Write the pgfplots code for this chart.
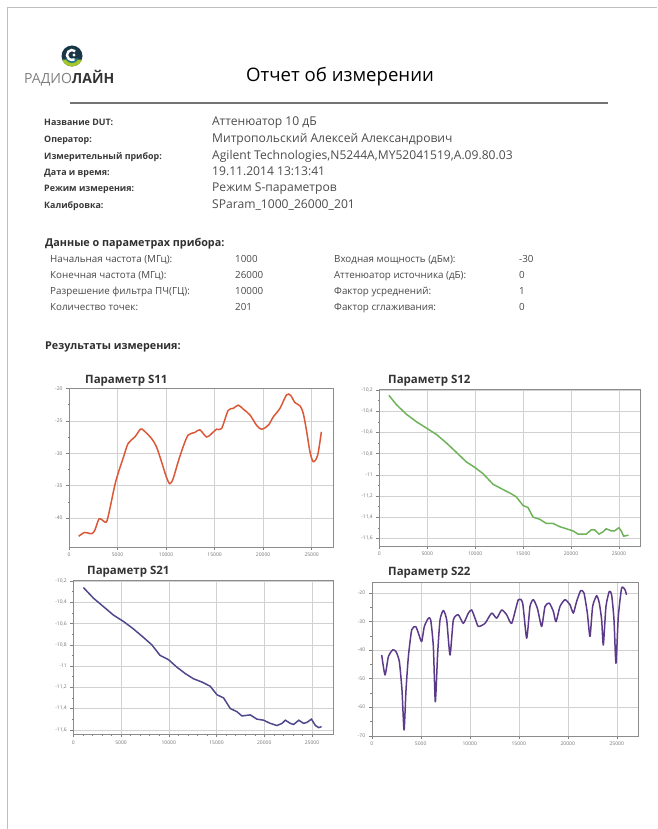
\documentclass[border=0pt]{standalone}
\usepackage{pgfplots}
\pgfplotsset{compat=1.18}
\usepackage{fontspec}
\setmainfont{Open Sans}
\definecolor{cS11}{RGB}{218,88,55}
\definecolor{cS12}{RGB}{110,178,90}
\definecolor{cS21}{RGB}{78,72,140}
\definecolor{cS22}{RGB}{92,58,138}
\definecolor{lgA}{RGB}{25,55,70}
\definecolor{lgB}{RGB}{165,200,40}
\definecolor{lgC}{RGB}{40,120,130}
\pgfplotsset{rep/.style={scale only axis, anchor=south west, xmin=0, xmax=27200,
  axis line style={black!45}, grid=major, major grid style={black!18},
  tick align=outside, xtick pos=bottom, ytick pos=left,
  xtick={0,5000,...,25000}, minor x tick num=4, minor y tick num=1,
  major tick length=3pt, minor tick length=1.5pt,
  tick style={black!50, line width=0.4pt},
  tick label style={font=\fontsize{5}{6}\selectfont, text=black!55},
  scaled ticks=false, /pgf/number format/assume math mode=true,
  /pgf/number format/use comma, /pgf/number format/1000 sep={},
  y tick label style={/pgf/number format/fixed}}}
\begin{document}
\begin{tikzpicture}[x=1pt,y=1pt]
\path[use as bounding box] (0,0) rectangle (657,-829);
\draw[black!25, line width=0.8pt] (7,-829) -- (7,-7) -- (657,-7);
% logo
\fill[lgA] (72,-56) circle (10.5pt);
\fill[lgB] (72,-56) ++(200:10.5pt) arc (200:340:10.5pt) -- cycle;
\fill[lgC] (72,-56) ++(200:7pt) arc (200:340:7pt) -- cycle;
\draw[white, line width=2.4pt] (72,-55) ++(50:5pt) arc (50:300:5pt);
\fill[white] (74,-55) circle (1.6pt);
\node[anchor=west, inner sep=0, font=\fontsize{14}{16}\selectfont] at (24,-78) {\textcolor{black!50}{РАДИО}\textcolor{black!80}{\bfseries ЛАЙН}};
% title
\node[inner sep=0, font=\fontsize{18.6}{22}\selectfont] at (340,-77) {Отчет об измерении};
\draw[black!55, line width=2pt] (70,-103) -- (608,-103);
% styles
\tikzset{lab/.style={anchor=base west, inner sep=0, font=\fontsize{8.9}{11}\selectfont\bfseries, text=black!78},
 val/.style={anchor=base west, inner sep=0, font=\fontsize{12.1}{14}\selectfont, text=black!70},
 lab2/.style={anchor=base west, inner sep=0, font=\fontsize{9.8}{11}\selectfont, text=black!72},
 head/.style={anchor=base west, inner sep=0, font=\fontsize{10.8}{12}\selectfont\bfseries, text=black!82}}
% section 1
\node[lab] at (44,-125.5) {Название DUT:};
\node[lab] at (44,-142.5) {Оператор:};
\node[lab] at (44,-159.5) {Измерительный прибор:};
\node[lab] at (44,-175.5) {Дата и время:};
\node[lab] at (44,-191.5) {Режим измерения:};
\node[lab] at (44,-208.5) {Калибровка:};
\node[val] at (212,-125.5) {Аттенюатор 10 дБ};
\node[val] at (212,-142.5) {Митропольский Алексей Александрович};
\node[val] at (212,-159.5) {Agilent Technologies,N5244A,MY52041519,A.09.80.03};
\node[val] at (212,-175.5) {19.11.2014 13:13:41};
\node[val] at (212,-191.5) {Режим S-параметров};
\node[val] at (212,-208.5) {SParam\_1000\_26000\_201};
% section 2
\node[head] at (45,-246.5) {Данные о параметрах прибора:};
\node[lab2] at (50,-262.5) {Начальная частота (МГц):};
\node[lab2] at (50,-278.5) {Конечная частота (МГц):};
\node[lab2] at (50,-294.5) {Разрешение фильтра ПЧ(ГЦ):};
\node[lab2] at (50,-310.5) {Количество точек:};
\node[lab2] at (235,-262.5) {1000};
\node[lab2] at (235,-278.5) {26000};
\node[lab2] at (235,-294.5) {10000};
\node[lab2] at (235,-310.5) {201};
\node[lab2] at (334,-262.5) {Входная мощность (дБм):};
\node[lab2] at (334,-278.5) {Аттенюатор источника (дБ):};
\node[lab2] at (334,-294.5) {Фактор усреднений:};
\node[lab2] at (334,-310.5) {Фактор сглаживания:};
\node[lab2] at (519,-262.5) {-30};
\node[lab2] at (519,-278.5) {0};
\node[lab2] at (519,-294.5) {1};
\node[lab2] at (519,-310.5) {0};
\node[head] at (45,-349.5) {Результаты измерения:};
% chart titles
\tikzset{ctit/.style={anchor=west, inner sep=0, font=\fontsize{11.5}{13}\selectfont\bfseries, text=black!80}}
\node[ctit] at (85,-381) {Параметр S11};
\node[ctit] at (388,-381) {Параметр S12};
\node[ctit] at (87,-572) {Параметр S21};
\node[ctit] at (388,-573) {Параметр S22};
% S11
\begin{axis}[rep, at={(69pt,-546.7pt)}, width=264pt, height=158.4pt,
  ymin=-44.4, ymax=-20, ytick={-40,-35,...,-20}]
\addplot[cS11, line width=1.5pt, smooth] coordinates {
(1000,-42.8)(1620,-42.2)(2300,-42.4)(2650,-41.9)(3100,-40.1)(3510,-40.4)(3850,-40.6)(4130,-39.1)
(4710,-35.0)(5060,-33.1)(5570,-30.8)(6090,-28.5)(6780,-27.5)(7360,-26.3)(7700,-26.5)(8490,-27.7)
(9010,-29.0)(9530,-31.3)(10040,-33.7)(10390,-34.7)(10730,-33.9)(11250,-31.3)(11760,-29.0)(12280,-27.2)
(12970,-26.8)(13480,-26.4)(14170,-27.5)(14680,-27.0)(15200,-26.3)(15720,-26.2)(16400,-23.4)(16920,-23.1)
(17440,-22.6)(17950,-23.2)(18640,-24.1)(19330,-25.7)(19840,-26.3)(20530,-25.7)(21050,-24.4)(21730,-23.1)
(22420,-21.0)(22840,-21.1)(23280,-22.2)(23800,-22.7)(24140,-23.9)(24490,-26.7)(24830,-29.8)(25170,-31.3)
(25620,-30.3)(26000,-26.7)};
\end{axis}
% S12
\begin{axis}[rep, at={(379.3pt,-545.7pt)}, width=260.7pt, height=156.7pt,
  ymin=-11.67, ymax=-10.19, ytick={-11.6,-11.4,...,-10.2}]
\addplot[cS12, line width=1.5pt] coordinates {
(1000,-10.25)(1810,-10.34)(2850,-10.43)(3890,-10.50)(4930,-10.56)(5970,-10.62)(7010,-10.70)(8060,-10.79)
(9100,-10.88)(9960,-10.93)(10830,-10.99)(11870,-11.09)(12920,-11.14)(13780,-11.18)(14300,-11.21)(15000,-11.29)
(15520,-11.31)(16040,-11.40)(16730,-11.42)(17430,-11.46)(18120,-11.46)(18820,-11.49)(19510,-11.51)(20210,-11.53)
(20730,-11.56)(21250,-11.56)(21600,-11.56)(22120,-11.52)(22460,-11.52)(22920,-11.56)(23330,-11.54)(23680,-11.51)
(24200,-11.53)(24550,-11.53)(25000,-11.50)(25240,-11.53)(25490,-11.58)(26000,-11.57)};
\end{axis}
% S21
\begin{axis}[rep, at={(73.3pt,-734pt)}, width=259.7pt, height=154pt,
  ymin=-11.64, ymax=-10.19, ytick={-11.6,-11.4,...,-10.2}]
\addplot[cS21, line width=1.5pt] coordinates {
(1050,-10.26)(2100,-10.36)(3150,-10.44)(4200,-10.52)(5250,-10.58)(6290,-10.65)(7340,-10.73)(8220,-10.80)
(9090,-10.90)(9970,-10.94)(10840,-11.01)(11710,-11.07)(12590,-11.12)(13460,-11.15)(14340,-11.19)(15040,-11.27)
(15740,-11.30)(16440,-11.40)(17140,-11.43)(17660,-11.47)(18530,-11.46)(19230,-11.50)(19930,-11.51)(20630,-11.54)
(21330,-11.56)(21860,-11.54)(22210,-11.51)(22730,-11.54)(23080,-11.55)(23610,-11.51)(24130,-11.54)(24480,-11.53)
(24940,-11.50)(25360,-11.56)(25700,-11.58)(26000,-11.57)};
\end{axis}
% S22
\begin{axis}[rep, at={(371.7pt,-735.7pt)}, width=266.6pt, height=154pt,
  ymin=-70, ymax=-16, ytick={-70,-60,...,-20}]
\addplot[cS22, line width=1.5pt, line join=round, smooth, tension=0.35] coordinates {
(1020,-41.7)(1360,-48.7)(1700,-42.3)(2140,-39.9)(2480,-40.5)(2820,-44.0)(3090,-54.0)(3300,-68.0)
(3500,-54.0)(3740,-42.3)(4080,-32.9)(4490,-31.7)(4830,-34.7)(5100,-37.0)(5370,-31.7)(5780,-28.8)
(6020,-29.4)(6290,-38.8)(6490,-58.1)(6730,-41.1)(6970,-29.4)(7310,-26.1)(7650,-29.4)(7990,-41.7)
(8330,-29.4)(8840,-27.6)(9350,-30.6)(9860,-27.0)(10200,-25.9)(10540,-28.8)(10880,-31.7)(11560,-30.6)
(12240,-27.0)(12750,-28.8)(13260,-25.9)(13770,-27.6)(14280,-30.6)(14960,-22.3)(15400,-23.5)(15810,-35.8)
(16150,-24.7)(16490,-22.3)(16900,-25.3)(17340,-31.7)(17680,-24.7)(18120,-23.5)(18530,-26.4)(18800,-30.0)
(19210,-24.7)(19720,-22.3)(20230,-24.1)(20570,-27.0)(20910,-22.9)(21320,-19.1)(21660,-20.0)(22000,-27.0)
(22270,-35.2)(22540,-24.7)(22950,-20.9)(23220,-23.5)(23460,-29.4)(23630,-38.2)(23900,-24.7)(24240,-19.4)
(24480,-20.6)(24720,-29.4)(24920,-44.6)(25160,-28.2)(25500,-18.2)(25840,-18.8)(26000,-20.6)};
\end{axis}
\end{tikzpicture}
\end{document}
